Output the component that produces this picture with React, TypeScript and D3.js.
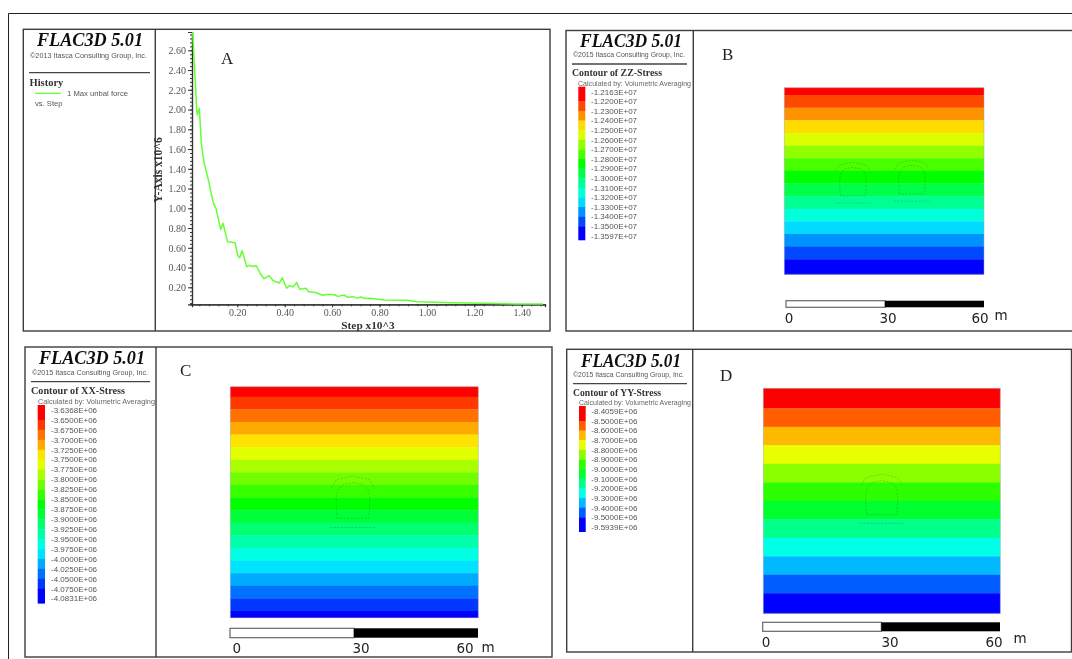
import React, { useEffect, useRef } from "react";
import * as d3 from "d3";

const historySteps = [0.012,0.017,0.029,0.031,0.04,0.048,0.06,0.078,0.099,0.11,0.13,0.14,0.159,0.19,0.203,0.21,0.22,0.24,0.25,0.264,0.28,0.296,0.313,0.334,0.352,0.377,0.39,0.408,0.42,0.435,0.45,0.463,0.49,0.5,0.53,0.56,0.585,0.61,0.625,0.65,0.665,0.69,0.705,0.72,0.74,0.76,0.82,0.915,0.96,1.1,1.24,1.38,1.49];
const historyValues = [2.785,2.53,1.995,1.945,2.01,1.66,1.46,1.287,1.05,1.0,0.787,0.848,0.662,0.652,0.517,0.5,0.571,0.409,0.423,0.41,0.419,0.342,0.287,0.318,0.267,0.243,0.297,0.19,0.217,0.205,0.247,0.18,0.19,0.157,0.147,0.12,0.13,0.125,0.108,0.122,0.1,0.105,0.09,0.102,0.087,0.09,0.072,0.068,0.054,0.044,0.038,0.03,0.03];
const zzLevels = ["-1.2163E+07","-1.2200E+07","-1.2300E+07","-1.2400E+07","-1.2500E+07","-1.2600E+07","-1.2700E+07","-1.2800E+07","-1.2900E+07","-1.3000E+07","-1.3100E+07","-1.3200E+07","-1.3300E+07","-1.3400E+07","-1.3500E+07","-1.3597E+07"];
const xxLevels = ["-3.6368E+06","-3.6500E+06","-3.6750E+06","-3.7000E+06","-3.7250E+06","-3.7500E+06","-3.7750E+06","-3.8000E+06","-3.8250E+06","-3.8500E+06","-3.8750E+06","-3.9000E+06","-3.9250E+06","-3.9500E+06","-3.9750E+06","-4.0000E+06","-4.0250E+06","-4.0500E+06","-4.0750E+06","-4.0831E+06"];
const yyLevels = ["-8.4059E+06","-8.5000E+06","-8.6000E+06","-8.7000E+06","-8.8000E+06","-8.9000E+06","-9.0000E+06","-9.1000E+06","-9.2000E+06","-9.3000E+06","-9.4000E+06","-9.5000E+06","-9.5939E+06"];
const scaleBarTicks = [0, 30, 60];
const tunnelBody: [number, number][] = [[-3.8,4.2],[-4.1,0],[-3.7,-2.6],[-2.4,-4],[0,-4.4],[2.4,-4],[3.7,-2.6],[4.1,0],[3.8,4.2],[-3.8,4.2]];
const tunnelArch: [number, number][] = [[-5.2,-3.2],[-4,-5.2],[0,-6],[4,-5.2],[5.2,-3.2]];
const tunnelFloor: [number, number][] = [[-5.5,6.4],[5.5,6.4]];

const SERIF = "'Liberation Serif', serif";
const SANS = "'Liberation Sans', sans-serif";
const GREEN = "#66ff33";
const FRAME = "#3c3c3c";

interface P {
  levels: string[]; title: string; copy: string;
  box: [number, number, number, number]; div: number;
  flac: [number, number, number]; copyXY: [number, number, number];
  rule: [number, number, number]; titleXY: [number, number, number]; calc: [number, number, number];
  sw: [number, number, number, number]; labelX: number; label0: number; labelStep: number;
  map: [number, number, number, number, number];
  letter: [string, number, number];
  bar: [number, number, number, number, number];
  barLabels: [number, number, number]; barBase: number; m: [number, number];
  tunnels: [number, number][];
}

const panels: P[] = [
  { levels: zzLevels, title: "Contour of ZZ-Stress", copy: "©2015 Itasca Consulting Group, Inc.",
    box: [566, 30.5, 1090, 331], div: 693.3, flac: [580, 46.5, 102], copyXY: [573, 57, 112], rule: [572, 687, 64],
    titleXY: [572, 76, 90], calc: [578, 85.5, 113], sw: [578.3, 585.3, 86.7, 240], labelX: 591, label0: 91.7, labelStep: 9.61,
    map: [784.3, 984, 87.7, 95, 259.3], letter: ["B", 722, 60], bar: [786, 984, 300.7, 307.3, 274.3],
    barLabels: [789, 888, 980], barBase: 323, m: [1001, 320], tunnels: [[853, 182], [912, 180]] },
  { levels: xxLevels, title: "Contour of XX-Stress", copy: "©2015 Itasca Consulting Group, Inc.",
    box: [25, 347, 552, 657], div: 156, flac: [39, 364, 106], copyXY: [32, 374.5, 116], rule: [31, 150, 381.7],
    titleXY: [31, 394, 94], calc: [38, 403.5, 117], sw: [37.7, 45, 405, 603.3], labelX: 51, label0: 410, labelStep: 9.93,
    map: [230.3, 478.3, 386.7, 396.7, 611], letter: ["C", 180, 376], bar: [230, 478, 628.3, 637.7, 617.7],
    barLabels: [236.7, 361, 465], barBase: 653.3, m: [488, 651.7], tunnels: [[353, 501]] },
  { levels: yyLevels, title: "Contour of YY-Stress", copy: "©2015 Itasca Consulting Group, Inc.",
    box: [566.7, 349.3, 1071.5, 652], div: 692.7, flac: [581, 366.7, 100], copyXY: [573, 376.5, 111], rule: [573, 687, 383.7],
    titleXY: [573, 395.7, 88], calc: [579, 404.5, 112], sw: [579, 585.7, 406, 531.7], labelX: 591.3, label0: 411.3, labelStep: 9.64,
    map: [763.3, 1000.3, 388.3, 408.3, 593.3], letter: ["D", 720, 381], bar: [762.7, 1000, 622.3, 631.3, 613.3],
    barLabels: [766, 890, 994], barBase: 647.3, m: [1020, 643.3], tunnels: [[881.7, 498]] },
];

const hue = (i: number, n: number) => d3.hsl((i / (n - 1)) * 240, 1, 0.5).formatHex();

function Header({ flac, copy, copyXY, rule }: { flac: number[]; copy: string; copyXY: number[]; rule: number[] }) {
  return (
    <g>
      <text x={flac[0]} y={flac[1]} textLength={flac[2]} lengthAdjust="spacingAndGlyphs" fontFamily={SERIF} fontWeight="bold" fontStyle="italic" fontSize={18} fill="#111">FLAC3D 5.01</text>
      <text x={copyXY[0]} y={copyXY[1]} textLength={copyXY[2]} lengthAdjust="spacingAndGlyphs" fontFamily={SANS} fontSize={7.2} fill="#555">{copy}</text>
      <line x1={rule[0]} x2={rule[1]} y1={rule[2]} y2={rule[2]} stroke="#444" strokeWidth={1.3} />
    </g>
  );
}

function Contour({ p }: { p: P }) {
  const vals = p.levels.map(Number);
  const n = vals.length;
  const [x0, x1, top, second, penult] = p.map;
  const bottom = p.bar[4];
  const y = d3.scaleLinear().domain([vals[0], vals[1], vals[n - 2], vals[n - 1]]).range([top, second, penult, bottom]);
  const bands = d3.pairs(vals);
  const ly = d3.scaleLinear().domain([0, n - 1]).range([p.label0, p.label0 + p.labelStep * (n - 1)]);
  const swEdge = (i: number) => (i === 0 ? p.sw[2] : i === n - 1 ? p.sw[3] : ly(i));
  const bar = d3.scaleLinear().domain([0, 60]).range([p.bar[0], p.bar[1]]);
  const meters = (bar(1) - bar(0));
  const lx = d3.scaleOrdinal<number, number>().domain(scaleBarTicks).range(p.barLabels);
  return (
    <g>
      <rect x={p.box[0]} y={p.box[1]} width={p.box[2] - p.box[0]} height={p.box[3] - p.box[1]} fill="#fff" stroke={FRAME} strokeWidth={1.4} />
      <line x1={p.div} x2={p.div} y1={p.box[1]} y2={p.box[3]} stroke={FRAME} strokeWidth={1.4} />
      <Header flac={p.flac} copy={p.copy} copyXY={p.copyXY} rule={p.rule} />
      <text x={p.titleXY[0]} y={p.titleXY[1]} textLength={p.titleXY[2]} lengthAdjust="spacingAndGlyphs" fontFamily={SERIF} fontWeight="bold" fontSize={10.5} fill="#333">{p.title}</text>
      <text x={p.calc[0]} y={p.calc[1]} textLength={p.calc[2]} lengthAdjust="spacingAndGlyphs" fontFamily={SANS} fontSize={7.2} fill="#666">Calculated by: Volumetric Averaging</text>
      {bands.map((_, i) => (
        <rect key={i} x={p.sw[0]} width={p.sw[1] - p.sw[0]} y={swEdge(i)} height={swEdge(i + 1) - swEdge(i) + 0.3} fill={hue(i, n - 1)} />
      ))}
      {p.levels.map((s, i) => (
        <text key={s} x={p.labelX} y={ly(i)} dy="0.35em" fontFamily={SANS} fontSize={8} fill="#555">{s}</text>
      ))}
      {bands.map(([a, b], i) => (
        <rect key={i} x={x0} width={x1 - x0} y={y(a)} height={y(b) - y(a) + 0.3} fill={hue(i, n - 1)} />
      ))}
      <rect x={x0} y={top} width={x1 - x0} height={bottom - top} fill="none" stroke="#9aa" strokeOpacity={0.6} strokeWidth={0.8} />
      {p.tunnels.map(([cx, cy], k) => {
        const l = d3.line<[number, number]>().x((d) => cx + d[0] * meters).y((d) => cy + d[1] * meters);
        return (
          <g key={k} fill="none" stroke="#1a5a2a" strokeOpacity={0.35} strokeWidth={0.7} strokeDasharray="2 1.5">
            <path d={l(tunnelBody) as string} />
            <path d={l(tunnelArch) as string} />
            <path d={l(tunnelFloor) as string} />
          </g>
        );
      })}
      <text x={p.letter[1]} y={p.letter[2]} fontFamily={SERIF} fontSize={17} fill="#222">{p.letter[0]}</text>
      <rect x={bar(0)} y={p.bar[2]} width={bar(30) - bar(0)} height={p.bar[3] - p.bar[2]} fill="#fff" stroke="#666" strokeWidth={1.2} />
      <rect x={bar(30)} y={p.bar[2]} width={bar(60) - bar(30)} height={p.bar[3] - p.bar[2]} fill="#000" />
      {scaleBarTicks.map((t) => (
        <text key={t} x={lx(t)} y={p.barBase} textAnchor="middle" fontFamily="'DejaVu Sans', sans-serif" fontSize={13.5} fill="#222">{t}</text>
      ))}
      <text x={p.m[0]} y={p.m[1]} textAnchor="middle" fontFamily="'DejaVu Sans', sans-serif" fontSize={13.5} fill="#222">m</text>
    </g>
  );
}

export default function App() {
  const xRef = useRef<SVGGElement>(null);
  const yRef = useRef<SVGGElement>(null);
  const xScale = d3.scaleLinear().domain([0.2, 1.4]).range([237.3, 521.7]);
  const yScale = d3.scaleLinear().domain([0.2, 1.0]).range([287.3, 208.3]);
  const axisX = xScale.invert(192);
  const axisY = yScale.invert(304.3);
  const topY = yScale.invert(32);
  const endX = xScale.invert(545);
  const line = d3.line<number>().x((d) => xScale(d)).y((_, i) => yScale(historyValues[i]));

  useEffect(() => {
    const xs = xScale.copy().domain([axisX, endX]).range([192, 545]);
    const ys = yScale.copy().domain([axisY, topY]).range([304.3, 32]);
    const gx = d3.select(xRef.current!);
    const gy = d3.select(yRef.current!);
    gx.selectAll("*").remove();
    gy.selectAll("*").remove();
    const major = d3.range(0.2, 1.41, 0.2);
    const majorY = d3.range(0.2, 2.61, 0.2);
    const style = (g: any) => {
      g.selectAll("text").attr("font-family", SERIF).attr("font-size", 10).attr("fill", "#555");
      g.selectAll("line").attr("stroke", "#333");
      g.select(".domain").attr("stroke", "#333").attr("stroke-width", 1.2);
    };
    gx.call(d3.axisBottom(xs).tickValues(d3.range(0.04, 1.49, 0.04)).tickSize(2).tickFormat(() => "") as any);
    gx.append("g").call(d3.axisBottom(xs).tickValues(major).tickSize(3).tickPadding(2).tickFormat(d3.format(".2f") as any) as any).call(style);
    gx.call(style);
    gy.call(d3.axisLeft(ys).tickValues(d3.range(0.04, 2.77, 0.04)).tickSize(2).tickFormat(() => "") as any);
    gy.append("g").call(d3.axisLeft(ys).tickValues(majorY).tickSize(4).tickPadding(2).tickFormat(d3.format(".2f") as any) as any).call(style);
    gy.call(style);
  }, []);

  return (
    <svg width={1072} height={659} style={{ position: "absolute", left: 0, top: 0, background: "#fff" }}>
      <defs>
        <filter id="soft" x="0" y="0" width="100%" height="100%"><feGaussianBlur stdDeviation="0.4" /></filter>
      </defs>
      <g filter="url(#soft)">
        <path d="M8.5 659V13.5H1072" fill="none" stroke="#222" strokeWidth={1} />
        <rect x={23.3} y={29.3} width={526.7} height={301.7} fill="#fff" stroke={FRAME} strokeWidth={1.4} />
        <line x1={155.3} x2={155.3} y1={29.3} y2={331} stroke={FRAME} strokeWidth={1.4} />
        <Header flac={[37, 46, 106]} copy="©2013 Itasca Consulting Group, Inc." copyXY={[30, 57.5, 117]} rule={[29, 150, 72.7]} />
        <text x={29.5} y={85.5} fontFamily={SERIF} fontWeight="bold" fontSize={10.5} fill="#333">History</text>
        <line x1={35} x2={61} y1={93.3} y2={93.3} stroke={GREEN} strokeWidth={1.3} />
        <text x={67} y={93.5} dy="0.35em" textLength={61} lengthAdjust="spacingAndGlyphs" fontFamily={SANS} fontSize={7.6} fill="#555">1 Max unbal force</text>
        <text x={35} y={103} dy="0.35em" fontFamily={SANS} fontSize={7.6} fill="#555">vs. Step</text>
        <g ref={xRef} transform="translate(0,304.3)" />
        <g ref={yRef} transform="translate(192,0)" />
        <path d={line(historySteps) as string} fill="none" stroke={GREEN} strokeWidth={1.5} strokeLinejoin="round" />
        <text x={162} y={170} transform="rotate(-90 162 170)" textAnchor="middle" fontFamily={SERIF} fontWeight="bold" fontSize={11.5} fill="#333">Y-Axis x10^6</text>
        <text x={368} y={329} textAnchor="middle" fontFamily={SERIF} fontWeight="bold" fontSize={11.3} fill="#333">Step x10^3</text>
        <text x={221} y={64} fontFamily={SERIF} fontSize={17} fill="#222">A</text>
        {panels.map((p) => <Contour key={p.title} p={p} />)}
      </g>
    </svg>
  );
}
